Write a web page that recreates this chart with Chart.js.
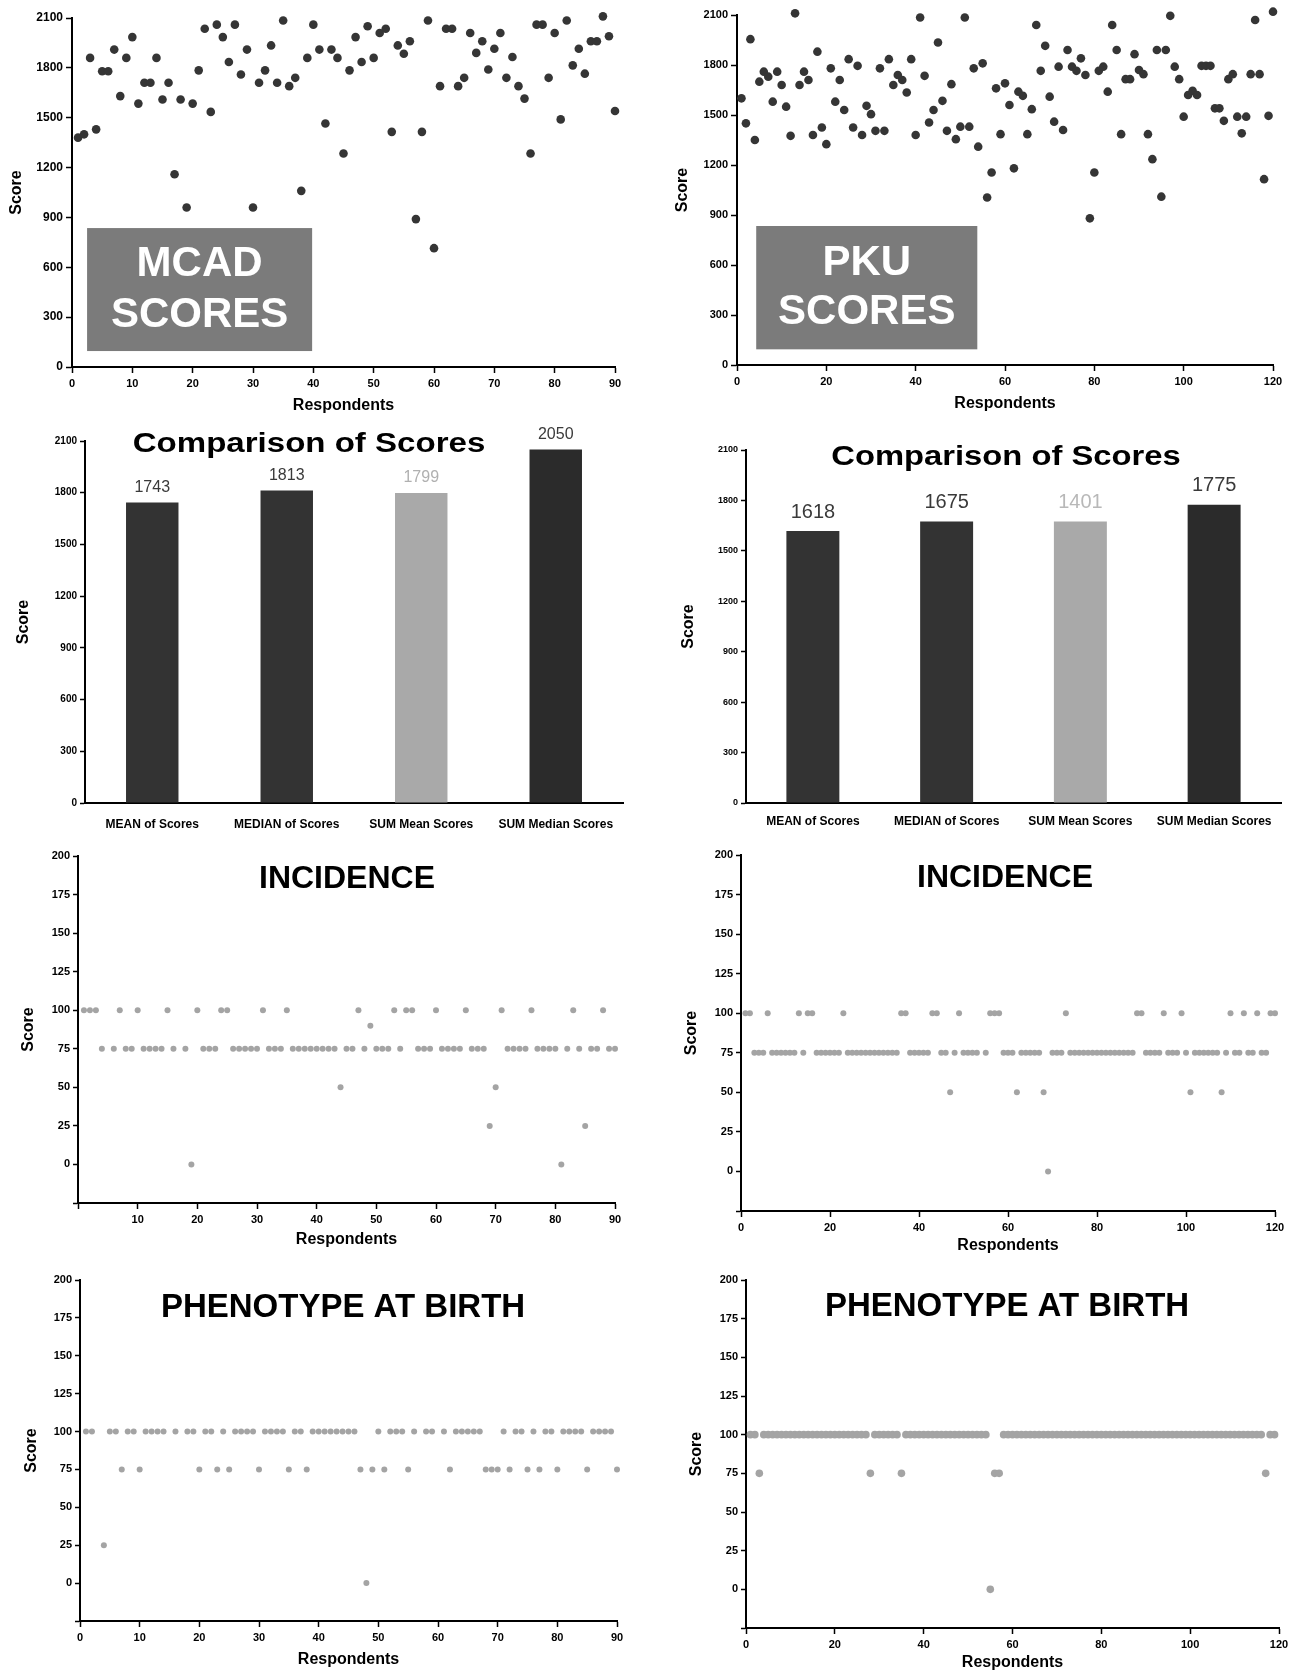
<!DOCTYPE html>
<html>
<head>
<meta charset="utf-8">
<title>MCAD / PKU scores</title>
<script src="https://cdn.jsdelivr.net/npm/chart.js@4.4.1/dist/chart.umd.min.js"></script>
<style>
  html, body { margin: 0; padding: 0; background: #fff; }
  #page { position: relative; width: 1298px; height: 1675px; overflow: hidden; background: #fff; }
  #page canvas { position: absolute; }
</style>
</head>
<body>
<div id="page"></div>
<script>
// ---- data (index = respondent number, starting at 1) ----
const mcadScores = [
  1380, 1400, 1860, 1430, 1780, 1780, 1910, 1630, 1860, 1985,
  1585, 1710, 1710, 1860, 1610, 1710, 1160, 1610, 960, 1585,
  1785, 2035, 1535, 2060, 1985, 1835, 2060, 1760, 1910, 960,
  1710, 1785, 1935, 1710, 2085, 1690, 1740, 1060, 1860, 2060,
  1910, 1465, 1910, 1860, 1285, 1785, 1985, 1835, 2050, 1860,
  2010, 2035, 1415, 1935, 1885, 1960, 890, 1415, 2085, 715,
  1690, 2035, 2035, 1690, 1740, 2010, 1890, 1960, 1790, 1915,
  2010, 1740, 1865, 1690, 1615, 1285, 2060, 2060, 1740, 2010,
  1490, 2085, 1815, 1915, 1765, 1960, 1960, 2110, 1990, 1540
];

const pkuScores = [
  1600, 1450, 1955, 1350, 1700, 1760, 1730, 1580, 1760, 1680,
  1550, 1375, 2110, 1680, 1760, 1710, 1380, 1880, 1425, 1325,
  1780, 1580, 1710, 1530, 1835, 1425, 1795, 1380, 1555, 1505,
  1405, 1780, 1405, 1835, 1680, 1740, 1710, 1635, 1835, 1380,
  2085, 1735, 1455, 1530, 1935, 1585, 1405, 1685, 1355, 1430,
  2085, 1430, 1780, 1310, 1810, 1005, 1155, 1660, 1385, 1690,
  1560, 1180, 1640, 1615, 1385, 1535, 2040, 1765, 1915, 1610,
  1460, 1790, 1410, 1890, 1790, 1765, 1840, 1740, 880, 1155,
  1765, 1790, 1640, 2040, 1890, 1385, 1715, 1715, 1865, 1770,
  1745, 1385, 1235, 1890, 1010, 1890, 2095, 1790, 1715, 1490,
  1620, 1645, 1620, 1795, 1795, 1795, 1540, 1540, 1465, 1715,
  1745, 1490, 1390, 1490, 1745, 2070, 1745, 1115, 1495, 2120
];

const barCategories = ['MEAN of Scores', 'MEDIAN of Scores', 'SUM Mean Scores', 'SUM Median Scores'];
const mcadBarValues = [1743, 1813, 1799, 2050];
const mcadBarLabels = ['1743', '1813', '1799', '2050'];
const pkuBarValues = [1618, 1675, 1675, 1775];
const pkuBarLabels = ['1618', '1675', '1401', '1775'];

const mcadIncidence = [
  100, 100, 100, 75, null, 75, 100, 75, 75, 100,
  75, 75, 75, 75, 100, 75, null, 75, 0, 100,
  75, 75, 75, 100, 100, 75, 75, 75, 75, 75,
  100, 75, 75, 75, 100, 75, 75, 75, 75, 75,
  75, 75, 75, 50, 75, 75, 100, 75, 90, 75,
  75, 75, 100, 75, 100, 100, 75, 75, 75, 100,
  75, 75, 75, 75, 100, 75, 75, 75, 25, 50,
  100, 75, 75, 75, 75, 100, 75, 75, 75, 75,
  0, 75, 100, 75, 25, 75, 75, 100, 75, 75
];

const pkuIncidence = [
  100, 100, 75, 75, 75, 100, 75, 75, 75, 75,
  75, 75, 100, 75, 100, 100, 75, 75, 75, 75,
  75, 75, 100, 75, 75, 75, 75, 75, 75, 75,
  75, 75, 75, 75, 75, 100, 100, 75, 75, 75,
  75, 75, 100, 100, 75, 75, 50, 75, 100, 75,
  75, 75, 75, null, 75, 100, 100, 100, 75, 75,
  75, 50, 75, 75, 75, 75, 75, 50, 0, 75,
  75, 75, 100, 75, 75, 75, 75, 75, 75, 75,
  75, 75, 75, 75, 75, 75, 75, 75, 100, 100,
  75, 75, 75, 75, 100, 75, 75, 75, 100, 75,
  50, 75, 75, 75, 75, 75, 75, 50, 75, 100,
  75, 75, 100, 75, 75, 100, 75, 75, 100, 100
];

const mcadPhenotype = [
  100, 100, null, 25, 100, 100, 75, 100, 100, 75,
  100, 100, 100, 100, null, 100, null, 100, 100, 75,
  100, 100, 75, 100, 75, 100, 100, 100, 100, 75,
  100, 100, 100, 100, 75, 100, 100, 75, 100, 100,
  100, 100, 100, 100, 100, 100, 75, 0, 75, 100,
  75, 100, 100, 100, 75, 100, null, 100, 100, null,
  100, 75, 100, 100, 100, 100, 100, 75, 75, 75,
  100, 75, 100, 100, 75, 100, 75, 100, 100, 75,
  100, 100, 100, 100, 75, 100, 100, 100, 100, 75
];

const pkuPhenotype = [
  100, 100, 75, 100, 100, 100, 100, 100, 100, 100,
  100, 100, 100, 100, 100, 100, 100, 100, 100, 100,
  100, 100, 100, 100, 100, 100, 100, 75, 100, 100,
  100, 100, 100, 100, 75, 100, 100, 100, 100, 100,
  100, 100, 100, 100, 100, 100, 100, 100, 100, 100,
  100, 100, 100, 100, 0, 75, 75, 100, 100, 100,
  100, 100, 100, 100, 100, 100, 100, 100, 100, 100,
  100, 100, 100, 100, 100, 100, 100, 100, 100, 100,
  100, 100, 100, 100, 100, 100, 100, 100, 100, 100,
  100, 100, 100, 100, 100, 100, 100, 100, 100, 100,
  100, 100, 100, 100, 100, 100, 100, 100, 100, 100,
  100, 100, 100, 100, 100, 100, 75, 100, 100, null
];

// ---- chart setup ----
const FONT = '"Liberation Sans", Arial, Helvetica, sans-serif';
Chart.defaults.font.family = FONT;
Chart.defaults.color = '#000';
Chart.defaults.animation = false;
Chart.defaults.responsive = false;
Chart.defaults.plugins.legend.display = false;
Chart.defaults.plugins.tooltip.enabled = false;

// draws the grey label box, the in-plot title and the bar value labels
const decorPlugin = {
  id: 'decor',
  beforeDatasetsDraw(chart, args, o) {
    const b = o.box;
    if (!b) return;
    const { ctx, scales: { x, y } } = chart;
    const x0 = x.getPixelForValue(b.x0);
    const x1 = x.getPixelForValue(b.x1);
    const y0 = y.getPixelForValue(b.y1);
    const y1 = y.getPixelForValue(b.y0);
    ctx.save();
    ctx.fillStyle = b.color;
    ctx.fillRect(x0, y0, x1 - x0, y1 - y0);
    ctx.fillStyle = '#fff';
    ctx.font = b.font;
    ctx.textAlign = 'center';
    ctx.textBaseline = 'middle';
    const cx = (x0 + x1) / 2;
    const cy = (y0 + y1) / 2;
    b.lines.forEach((t, i) => {
      ctx.fillText(t, cx, cy + (i - (b.lines.length - 1) / 2) * b.gap);
    });
    ctx.restore();
  },
  afterDatasetsDraw(chart, args, o) {
    const ctx = chart.ctx;
    if (o.values) {
      const v = o.values;
      const meta = chart.getDatasetMeta(0);
      ctx.save();
      ctx.font = v.font;
      ctx.textAlign = 'center';
      ctx.textBaseline = 'middle';
      meta.data.forEach((bar, i) => {
        ctx.fillStyle = v.colors[i];
        ctx.fillText(v.labels[i], bar.x, bar.y - v.offset);
      });
      ctx.restore();
    }
    if (o.title) {
      const t = o.title;
      ctx.save();
      ctx.font = t.font;
      ctx.fillStyle = '#000';
      ctx.textAlign = 'center';
      ctx.textBaseline = 'middle';
      ctx.translate(t.x, t.y);
      ctx.scale(t.scaleX || 1, 1);
      ctx.fillText(t.text, 0, 0);
      ctx.restore();
    }
  }
};
Chart.register(decorPlugin);

function makeCanvas(box) {
  const c = document.createElement('canvas');
  c.width = box.w;
  c.height = box.h;
  c.style.left = box.l + 'px';
  c.style.top = box.t + 'px';
  c.style.width = box.w + 'px';
  c.style.height = box.h + 'px';
  document.getElementById('page').appendChild(c);
  return c;
}

function axis(s, fit, titlePad) {
  const cfg = {
    type: s.type || 'linear',
    ticks: {
      font: { size: s.size, weight: 'bold' },
      color: '#000',
      padding: s.pad,
      maxRotation: 0,
      autoSkip: false
    },
    grid: s.tickLen
      ? { drawOnChartArea: false, drawTicks: true, tickLength: s.tickLen, tickWidth: 1.5, color: '#000', tickColor: '#000' }
      : { display: false },
    border: { display: true, color: '#000', width: 2 },
    title: s.title
      ? { display: true, text: s.title, color: '#000', font: { size: 16, weight: 'bold' }, padding: titlePad }
      : { display: false },
    afterFit: fit
  };
  if (cfg.type === 'linear') {
    cfg.min = s.min;
    cfg.max = s.max;
    cfg.ticks.stepSize = s.step;
    const hide = s.hide || (() => false);
    cfg.ticks.callback = (v) => (hide(v) ? '' : String(v));
  }
  return cfg;
}

function pointSet(values, color, radius) {
  return {
    data: values
      .map((v, i) => (v === null ? null : { x: i + 1, y: v }))
      .filter(Boolean),
    pointRadius: radius,
    pointBackgroundColor: color,
    pointBorderWidth: 0,
    showLine: false,
    clip: false
  };
}

function makePanel(p) {
  const { box, area } = p;
  const canvas = makeCanvas(box);
  const half = 16 * 1.2 / 2;
  const yWidth = area.l - box.l;
  const xHeight = box.t + box.h - area.b;
  const xPad = p.x.titleY ? { top: 0, bottom: box.t + box.h - p.x.titleY - half } : 0;
  const yPad = { top: p.y.titleX - box.l - half, bottom: 0 };
  const decor = Object.assign({}, p.decor || {});
  if (decor.title) {
    decor.title = Object.assign({}, decor.title, { x: decor.title.x - box.l, y: decor.title.y - box.t });
  }
  return new Chart(canvas.getContext('2d'), {
    type: p.type,
    data: p.data,
    options: {
      layout: { padding: { left: 0, bottom: 0, top: area.t - box.t, right: box.l + box.w - area.r } },
      scales: {
        x: axis(p.x, (s) => { s.height = xHeight; }, xPad),
        y: axis(p.y, (s) => { s.width = yWidth; }, yPad)
      },
      plugins: { decor }
    }
  });
}

const DARK = '#353535';
const LIGHT = '#a4a4a4';

// MCAD scores scatter
makePanel({
  box: { l: 0, t: 0, w: 645, h: 420 }, area: { l: 72, t: 18, r: 615, b: 367 },
  type: 'scatter',
  data: { datasets: [pointSet(mcadScores, DARK, 4.3)] },
  x: { min: 0, max: 90, step: 10, size: 11, tickLen: 6, pad: 4, title: 'Respondents', titleY: 406 },
  y: { min: 0, max: 2100, step: 300, size: 12, tickLen: 6, pad: 3, title: 'Score', titleX: 17 },
  decor: { box: { x0: 2.5, x1: 39.8, y0: 96, y1: 836, color: '#7b7b7b', font: 'bold 42px ' + FONT, gap: 51, lines: ['MCAD', 'SCORES'] } }
});

// PKU scores scatter
makePanel({
  box: { l: 655, t: 0, w: 643, h: 420 }, area: { l: 737, t: 15, r: 1273, b: 365 },
  type: 'scatter',
  data: { datasets: [pointSet(pkuScores, DARK, 4.3)] },
  x: { min: 0, max: 120, step: 20, size: 11, tickLen: 6, pad: 4, title: 'Respondents', titleY: 404 },
  y: { min: 0, max: 2100, step: 300, size: 11, tickLen: 6, pad: 3, title: 'Score', titleX: 683 },
  decor: { box: { x0: 4.3, x1: 53.8, y0: 94, y1: 834, color: '#7b7b7b', font: 'bold 42px ' + FONT, gap: 49, lines: ['PKU', 'SCORES'] } }
});

// MCAD comparison bars
makePanel({
  box: { l: 0, t: 415, w: 645, h: 425 }, area: { l: 85, t: 441, r: 623, b: 803 },
  type: 'bar',
  data: {
    labels: barCategories,
    datasets: [{
      data: mcadBarValues,
      backgroundColor: ['#333333', '#333333', '#a9a9a9', '#2b2b2b'],
      borderWidth: 0, barPercentage: 0.39, categoryPercentage: 1
    }]
  },
  x: { type: 'category', size: 12, tickLen: 0, pad: 6 },
  y: { min: 0, max: 2100, step: 300, size: 10, tickLen: 5, pad: 3, title: 'Score', titleX: 24 },
  decor: {
    title: { text: 'Comparison of Scores', x: 309, y: 444, font: 'bold 28px ' + FONT, scaleX: 1.18 },
    values: { labels: mcadBarLabels, colors: ['#3a3a3a', '#3a3a3a', '#b0b0b0', '#3a3a3a'], font: '16px ' + FONT, offset: 15 }
  }
});

// PKU comparison bars
makePanel({
  box: { l: 655, t: 415, w: 643, h: 425 }, area: { l: 746, t: 450, r: 1281, b: 803 },
  type: 'bar',
  data: {
    labels: barCategories,
    datasets: [{
      data: pkuBarValues,
      backgroundColor: ['#333333', '#333333', '#a9a9a9', '#2b2b2b'],
      borderWidth: 0, barPercentage: 0.396, categoryPercentage: 1
    }]
  },
  x: { type: 'category', size: 12, tickLen: 0, pad: 3 },
  y: { min: 0, max: 2100, step: 300, size: 9, tickLen: 5, pad: 3, title: 'Score', titleX: 689 },
  decor: {
    title: { text: 'Comparison of Scores', x: 1006, y: 457, font: 'bold 28px ' + FONT, scaleX: 1.17 },
    values: { labels: pkuBarLabels, colors: ['#3a3a3a', '#3a3a3a', '#b8b8b8', '#3a3a3a'], font: '20px ' + FONT, offset: 19 }
  }
});

const belowZero = (v) => v < 0;

// MCAD incidence
makePanel({
  box: { l: 0, t: 840, w: 645, h: 420 }, area: { l: 78, t: 856, r: 615, b: 1203 },
  type: 'scatter',
  data: { datasets: [pointSet(mcadIncidence, LIGHT, 3)] },
  x: { min: 0, max: 90, step: 10, size: 11, tickLen: 6, pad: 4, title: 'Respondents', titleY: 1240, hide: (v) => v === 0 },
  y: { min: -25, max: 200, step: 25, size: 11, tickLen: 5, pad: 3, title: 'Score', titleX: 29, hide: belowZero },
  decor: { title: { text: 'INCIDENCE', x: 347, y: 879, font: 'bold 32px ' + FONT } }
});

// PKU incidence
makePanel({
  box: { l: 655, t: 840, w: 643, h: 420 }, area: { l: 741, t: 855, r: 1275, b: 1211 },
  type: 'scatter',
  data: { datasets: [pointSet(pkuIncidence, LIGHT, 3)] },
  x: { min: 0, max: 120, step: 20, size: 11, tickLen: 6, pad: 4, title: 'Respondents', titleY: 1246 },
  y: { min: -25, max: 200, step: 25, size: 11, tickLen: 5, pad: 3, title: 'Score', titleX: 692, hide: belowZero },
  decor: { title: { text: 'INCIDENCE', x: 1005, y: 878, font: 'bold 32px ' + FONT } }
});

// MCAD phenotype at birth
makePanel({
  box: { l: 0, t: 1262, w: 645, h: 413 }, area: { l: 80, t: 1280, r: 617, b: 1621 },
  type: 'scatter',
  data: { datasets: [pointSet(mcadPhenotype, LIGHT, 3)] },
  x: { min: 0, max: 90, step: 10, size: 11, tickLen: 6, pad: 4, title: 'Respondents', titleY: 1660 },
  y: { min: -25, max: 200, step: 25, size: 11, tickLen: 5, pad: 3, title: 'Score', titleX: 32, hide: belowZero },
  decor: { title: { text: 'PHENOTYPE AT BIRTH', x: 343, y: 1308, font: 'bold 33px ' + FONT } }
});

// PKU phenotype at birth
makePanel({
  box: { l: 655, t: 1262, w: 643, h: 413 }, area: { l: 746, t: 1280, r: 1279, b: 1628 },
  type: 'scatter',
  data: { datasets: [pointSet(pkuPhenotype, LIGHT, 3.8)] },
  x: { min: 0, max: 120, step: 20, size: 11, tickLen: 6, pad: 4, title: 'Respondents', titleY: 1663 },
  y: { min: -25, max: 200, step: 25, size: 11, tickLen: 5, pad: 3, title: 'Score', titleX: 697, hide: belowZero },
  decor: { title: { text: 'PHENOTYPE AT BIRTH', x: 1007, y: 1307, font: 'bold 33px ' + FONT } }
});
</script>
</body>
</html>
